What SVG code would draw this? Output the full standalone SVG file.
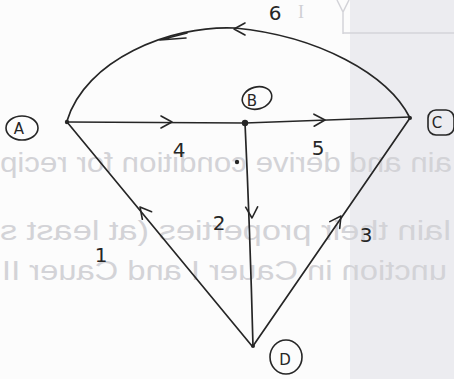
<svg xmlns="http://www.w3.org/2000/svg" xmlns:xlink="http://www.w3.org/1999/xlink" width="454" height="379" viewBox="0 0 454 379">
<style>
.edge{fill:none;stroke:#262626;stroke-width:1.7;stroke-linecap:round;stroke-linejoin:round}
.chev{fill:none;stroke:#262626;stroke-width:1.6;stroke-linecap:round;stroke-linejoin:round}
.ring{fill:none;stroke:#262626;stroke-width:1.6}
.lbl{font-family:"DejaVu Sans","Liberation Sans",sans-serif;font-size:20px;fill:#262626;text-anchor:middle}
.nl{font-family:"DejaVu Sans","Liberation Sans",sans-serif;font-size:15px;fill:#262626;text-anchor:middle}
.ghost{font-family:"Liberation Sans",Arial,sans-serif;font-size:27px;fill:#d3d3d7}
.gl{fill:none;stroke:#d4d4d9;stroke-width:1.5}
</style>
<defs>
<path id="chev" d="M-11,-6 L0,0 L-11,6"/>
</defs>
<rect x="0" y="0" width="454" height="379" fill="#fcfcfc"/>
<rect x="350" y="0" width="104" height="379" fill="#ececf0"/>
<g id="bleed">
<text class="ghost" transform="matrix(-1 0 0 1 454 0)" x="2" y="172" textLength="452" lengthAdjust="spacingAndGlyphs">ain and derive condition for recip</text>
<text class="ghost" transform="matrix(-1 0 0 1 454 0)" x="3" y="240" textLength="451" lengthAdjust="spacingAndGlyphs">lain their properties (at least s</text>
<text class="ghost" transform="matrix(-1 0 0 1 454 0)" x="7" y="280" textLength="445" lengthAdjust="spacingAndGlyphs">unction in Cauer I and Cauer II</text>
<text x="301" y="18" style="font-family:'Liberation Serif',serif;font-size:18px;fill:#d0d0d4;text-anchor:middle">I</text>
<path class="gl" d="M337,0 L343,12 L349,0 M343,12 L343,34 M343,33 L454,33"/>
</g>
<g id="connectors">
<g id="e6">
<path class="edge" d="M67,121 C85,60 170,25 235,28 C318,36 388,74 410,118"/>
<use href="#chev" class="chev" transform="translate(234,29) rotate(180)"/>
<path class="chev" d="M187,33 L160,40 L186,38"/>
<text class="lbl" x="275" y="20">6</text>
</g>
<g id="e4">
<path class="edge" d="M67,122 L245,123"/>
<use href="#chev" class="chev" transform="translate(172,122)"/>
<text class="lbl" x="179" y="157">4</text>
</g>
<g id="e5">
<path class="edge" d="M245,123 L410,117"/>
<use href="#chev" class="chev" transform="translate(325,120) rotate(-1)"/>
<text class="lbl" x="318" y="155">5</text>
</g>
<g id="e2">
<path class="edge" d="M245,123 Q250,230 253,346"/>
<use href="#chev" class="chev" transform="translate(252,218) rotate(88)"/>
<text class="lbl" x="219" y="230">2</text>
</g>
<g id="e1">
<path class="edge" d="M67,122 L252,346"/>
<use href="#chev" class="chev" transform="translate(140,207) rotate(-129.5)"/>
<text class="lbl" x="101" y="262">1</text>
</g>
<g id="e3">
<path class="edge" d="M253,346 L410,118"/>
<use href="#chev" class="chev" transform="translate(341,216) rotate(-55.3)"/>
<text class="lbl" x="366" y="242">3</text>
</g>
<circle cx="237" cy="162" r="2.2" fill="#262626"/>
</g>
<g id="node-A">
<circle cx="67" cy="122" r="2.2" fill="#262626"/>
<ellipse class="ring" cx="22" cy="128" rx="16" ry="12"/>
<text class="nl" x="19" y="134">A</text>
</g>
<g id="node-B">
<circle cx="245" cy="123" r="3.2" fill="#262626"/>
<ellipse class="ring" cx="257" cy="98" rx="15" ry="11" transform="rotate(-15 257 98)"/>
<text class="nl" x="252" y="106">B</text>
</g>
<g id="node-C">
<circle cx="410" cy="118" r="2" fill="#262626"/>
<rect class="ring" x="428" y="110" width="26" height="25" rx="8"/>
<text class="nl" x="437" y="128">C</text>
</g>
<g id="node-D">
<circle cx="253" cy="346" r="2" fill="#262626"/>
<ellipse class="ring" cx="286" cy="357" rx="16" ry="17"/>
<text class="nl" x="285" y="365">D</text>
</g>
</svg>
